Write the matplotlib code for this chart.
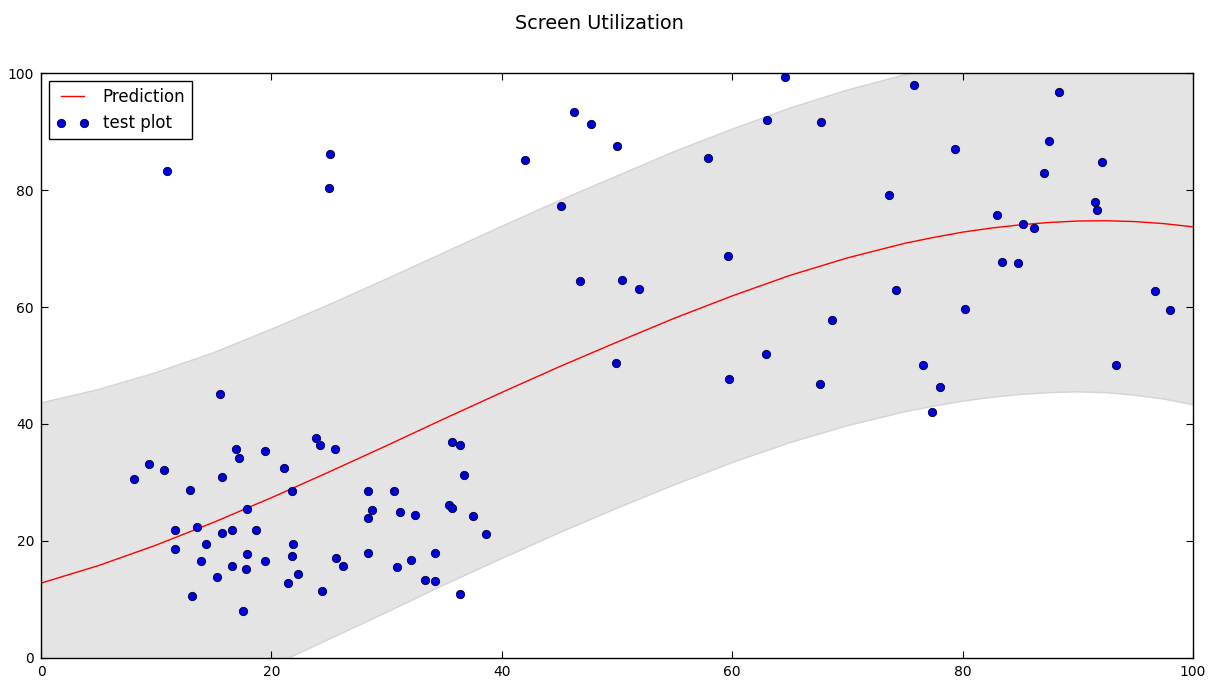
import matplotlib
matplotlib.use("Agg")
import matplotlib.pyplot as plt

pred_x = [0, 5, 10, 15, 20, 25, 30, 35, 40, 45, 50, 55, 60, 65, 70, 75, 77.5, 80, 82.5,
          85, 87.5, 90, 92.5, 95, 97.5, 100]
pred_y = [12.8, 15.8, 19.3, 23.2, 27.4, 31.8, 36.3, 40.9, 45.4, 49.8, 54.0, 58.1, 61.9,
          65.4, 68.4, 70.9, 71.9, 72.8, 73.5, 74.05, 74.45, 74.7, 74.75, 74.6, 74.25, 73.7]
band_half = [30.8, 30.1, 29.5, 29.0, 28.8, 28.6, 28.5, 28.4, 28.4, 28.4, 28.4, 28.5, 28.5,
             28.6, 28.7, 28.8, 28.85, 28.9, 28.95, 29.0, 29.1, 29.2, 29.4, 29.7, 30.0, 30.4]

# test points
test_x = [15.5, 9.4, 10.7, 8.1, 16.9, 17.2, 19.4, 21.1, 15.7, 12.9, 21.8, 17.9, 11.6, 13.5,
          15.7, 16.6, 18.7, 11.6, 14.3, 21.9, 17.9, 21.8, 13.9, 16.6, 17.8, 19.4, 22.3, 15.3,
          21.4, 13.1, 17.5,
          10.9, 25.1, 25.0,
          23.9, 24.2, 25.5, 35.7, 36.4, 36.7, 28.4, 30.6, 28.7, 28.4, 31.2, 32.5, 35.4, 35.7,
          37.5, 38.6, 25.6, 26.2, 28.4, 30.9, 32.1, 34.2, 33.3, 34.2, 36.4, 24.4,
          64.6, 46.3, 47.7, 50.0, 42.0, 63.0, 67.7, 57.9, 45.1, 59.6, 46.8, 50.4, 51.9, 68.7,
          49.9, 62.9, 59.7, 67.6,
          75.8, 88.4, 79.3, 87.5, 92.1, 87.1, 73.6, 91.5, 91.7, 83.0, 85.2, 86.2, 83.4, 84.8,
          74.2, 96.7, 80.2, 98.0, 76.6, 93.3, 78.0, 77.3]
test_y = [45.2, 33.2, 32.2, 30.6, 35.8, 34.2, 35.3, 32.5, 31.0, 28.8, 28.5, 25.5, 21.8, 22.4,
          21.3, 21.8, 21.9, 18.6, 19.4, 19.5, 17.7, 17.4, 16.5, 15.7, 15.2, 16.6, 14.3, 13.9,
          12.8, 10.6, 8.0,
          83.3, 86.2, 80.3,
          37.6, 36.4, 35.8, 36.9, 36.4, 31.2, 28.5, 28.5, 25.3, 24.0, 25.0, 24.4, 26.2, 25.6,
          24.2, 21.2, 17.1, 15.7, 17.9, 15.5, 16.8, 17.9, 13.4, 13.1, 10.9, 11.5,
          99.4, 93.3, 91.3, 87.5, 85.1, 91.9, 91.6, 85.4, 77.2, 68.7, 64.4, 64.6, 63.1, 57.8,
          50.4, 51.9, 47.7, 46.9,
          97.9, 96.7, 87.0, 88.4, 84.8, 82.9, 79.2, 78.0, 76.5, 75.7, 74.2, 73.5, 67.7, 67.6,
          62.9, 62.7, 59.7, 59.5, 50.1, 50.1, 46.3, 42.1]

upper = [p + h for p, h in zip(pred_y, band_half)]
lower = [p - h for p, h in zip(pred_y, band_half)]

plt.rcParams['font.family'] = 'DejaVu Sans'

fig = plt.figure(figsize=(12.17, 6.8), dpi=100)
ax = fig.add_axes([0.0337, 0.0324, 0.9466, 0.8602])

ax.fill_between(pred_x, lower, upper, color='#e4e4e4', linewidth=0)
ax.plot(pred_x, upper, color='#d4d4d4', linewidth=1)
ax.plot(pred_x, lower, color='#d4d4d4', linewidth=1)
ax.plot(pred_x, pred_y, color='red', linewidth=1, label='Prediction')
ax.plot(test_x, test_y, 'o', color='#0000dd', markersize=6, markeredgecolor='#000033',
        markeredgewidth=0.6, label='test plot')

ax.set_xlim(0, 100)
ax.set_ylim(0, 100)
ax.set_xticks([0, 20, 40, 60, 80, 100])
ax.set_yticks([0, 20, 40, 60, 80, 100])
ax.tick_params(direction='in', top=True, right=True, length=5, width=0.8, labelsize=10, pad=5)
for s in ax.spines.values():
    s.set_linewidth(1)

leg = ax.legend(loc='upper left', numpoints=2, fancybox=False, fontsize=12,
                handlelength=2.0, borderaxespad=0.5, framealpha=1)
leg.get_frame().set_edgecolor('black')
leg.get_frame().set_linewidth(1)

fig.suptitle('Screen Utilization', x=0.4926, y=0.966, va='center', fontsize=13.9)

fig.savefig('out.png', dpi=100, facecolor='white')
